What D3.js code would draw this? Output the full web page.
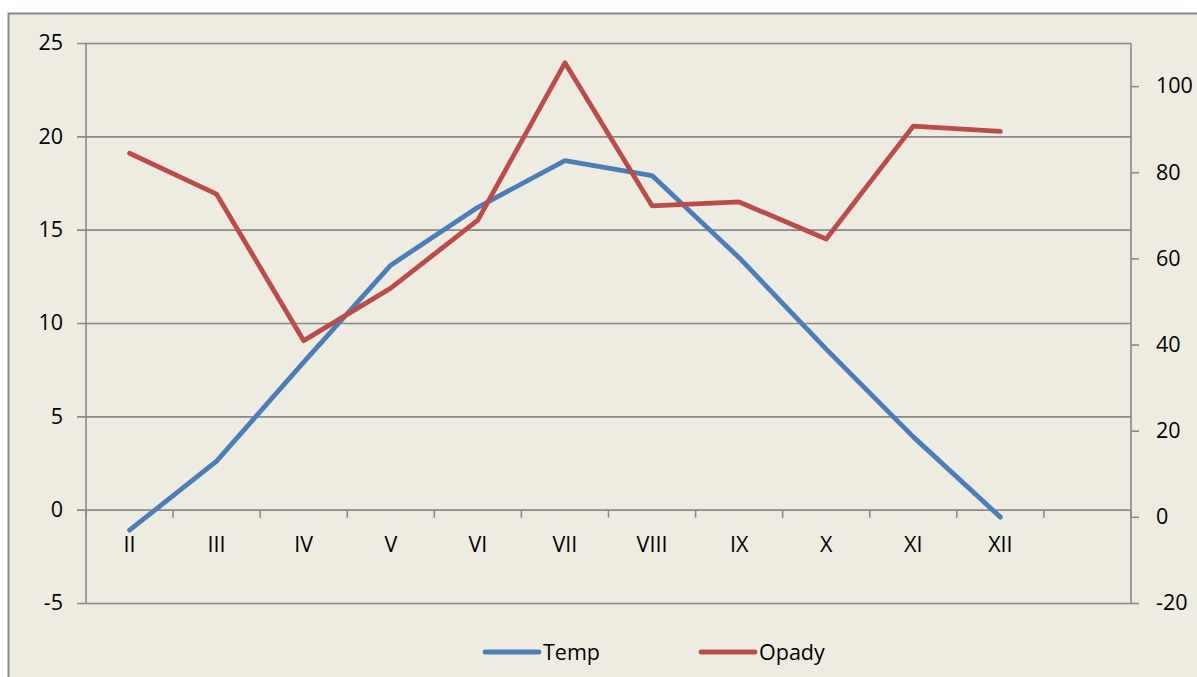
<!DOCTYPE html>
<html>
<head>
<meta charset="utf-8">
<script src="https://cdn.jsdelivr.net/npm/d3@7"></script>
<style>
  body { margin: 0; background: #fff; }
  svg text { font-family: "Open Sans", "Liberation Sans", sans-serif; fill: #000; }
</style>
</head>
<body>
<script>
// categories (last slot is empty in the original chart)
var months = ["II", "III", "IV", "V", "VI", "VII", "VIII", "IX", "X", "XI", "XII", ""];
var temp = [-1.1, 2.6, 7.9, 13.1, 16.2, 18.7, 17.9, 13.5, 8.6, 3.9, -0.4];
var opady = [84.4, 74.9, 40.9, 53.1, 68.9, 105.4, 72.2, 73.1, 64.5, 90.7, 89.5];
var leftTicks = [-5, 0, 5, 10, 15, 20, 25];
var rightTicks = [-20, 0, 20, 40, 60, 80, 100];

var W = 1197, H = 677;
var plot = {left: 86, right: 1131, top: 43, bottom: 603};
var gridColor = "#898989";
var fontSize = 21.5;

var svg = d3.select("body").append("svg")
  .attr("width", W)
  .attr("height", H);

// chart background + border
svg.append("rect")
  .attr("x", 8.5).attr("y", 13.5)
  .attr("width", W + 20).attr("height", H + 20)
  .attr("fill", "#EEECE1")
  .attr("stroke", gridColor)
  .attr("stroke-width", 2);

var x = d3.scaleBand()
  .domain(d3.range(months.length))
  .range([plot.left, plot.right]);

var yL = d3.scaleLinear().domain([-5, 25]).range([plot.bottom, plot.top]);
var yR = d3.scaleLinear().domain([-20, 110]).range([plot.bottom, plot.top]);

// plain hyphen for negatives, like the original
var fmt = d => String(d);

// left axis + gridlines
svg.append("g")
  .attr("transform", "translate(" + plot.left + ",0)")
  .call(d3.axisLeft(yL).tickValues(leftTicks).tickFormat(fmt).tickSizeOuter(0).tickPadding(17))
  .call(g => g.select(".domain").remove())
  .call(g => g.selectAll(".tick line")
    .attr("x1", -9).attr("x2", plot.right - plot.left)
    .attr("stroke", gridColor).attr("stroke-width", 1.6))
  .call(g => g.selectAll(".tick text").attr("font-size", fontSize));

// right axis
svg.append("g")
  .attr("transform", "translate(" + plot.right + ",0)")
  .call(d3.axisRight(yR).tickValues(rightTicks).tickFormat(fmt).tickSize(8).tickSizeOuter(0).tickPadding(17))
  .call(g => g.select(".domain").remove())
  .call(g => g.selectAll(".tick line").attr("stroke", gridColor).attr("stroke-width", 1.6))
  .call(g => g.selectAll(".tick text").attr("font-size", fontSize));

// vertical axis lines
[plot.left, plot.right].forEach(function(px) {
  svg.append("line")
    .attr("x1", px).attr("x2", px)
    .attr("y1", plot.top).attr("y2", plot.bottom)
    .attr("stroke", gridColor).attr("stroke-width", 1.6);
});

// category axis at y = 0
var y0 = yL(0);
var xAxis = svg.append("g").attr("transform", "translate(0," + y0 + ")");
xAxis.selectAll("line.cat")
  .data(d3.range(months.length + 1))
  .enter().append("line")
  .attr("class", "cat")
  .attr("x1", i => plot.left + i * x.step())
  .attr("x2", i => plot.left + i * x.step())
  .attr("y1", 0).attr("y2", 8)
  .attr("stroke", gridColor).attr("stroke-width", 1.6);
xAxis.selectAll("text")
  .data(months)
  .enter().append("text")
  .attr("x", (d, i) => x(i) + x.bandwidth() / 2)
  .attr("y", 35)
  .attr("dy", "0.35em")
  .attr("text-anchor", "middle")
  .attr("font-size", fontSize)
  .text(d => d);

// series lines
var cx = i => x(i) + x.bandwidth() / 2;

svg.append("path")
  .datum(temp)
  .attr("fill", "none")
  .attr("stroke", "#4A7EBB")
  .attr("stroke-width", 4.8)
  .attr("stroke-linejoin", "round")
  .attr("stroke-linecap", "round")
  .attr("d", d3.line().x((d, i) => cx(i)).y(d => yL(d)));

svg.append("path")
  .datum(opady)
  .attr("fill", "none")
  .attr("stroke", "#BE4B48")
  .attr("stroke-width", 4.8)
  .attr("stroke-linejoin", "round")
  .attr("stroke-linecap", "round")
  .attr("d", d3.line().x((d, i) => cx(i)).y(d => yR(d)));

// legend
var legend = [
  {name: "Temp", color: "#4A7EBB", x: 485},
  {name: "Opady", color: "#BE4B48", x: 701}
];
var lg = svg.selectAll("g.legend")
  .data(legend)
  .enter().append("g")
  .attr("class", "legend")
  .attr("transform", d => "translate(" + d.x + ",652)");
lg.append("line")
  .attr("x1", 0).attr("x2", 54)
  .attr("stroke", d => d.color)
  .attr("stroke-width", 4.8)
  .attr("stroke-linecap", "round");
lg.append("text")
  .attr("x", 58)
  .attr("dy", "0.35em")
  .attr("font-size", fontSize)
  .text(d => d.name);
</script>
</body>
</html>
